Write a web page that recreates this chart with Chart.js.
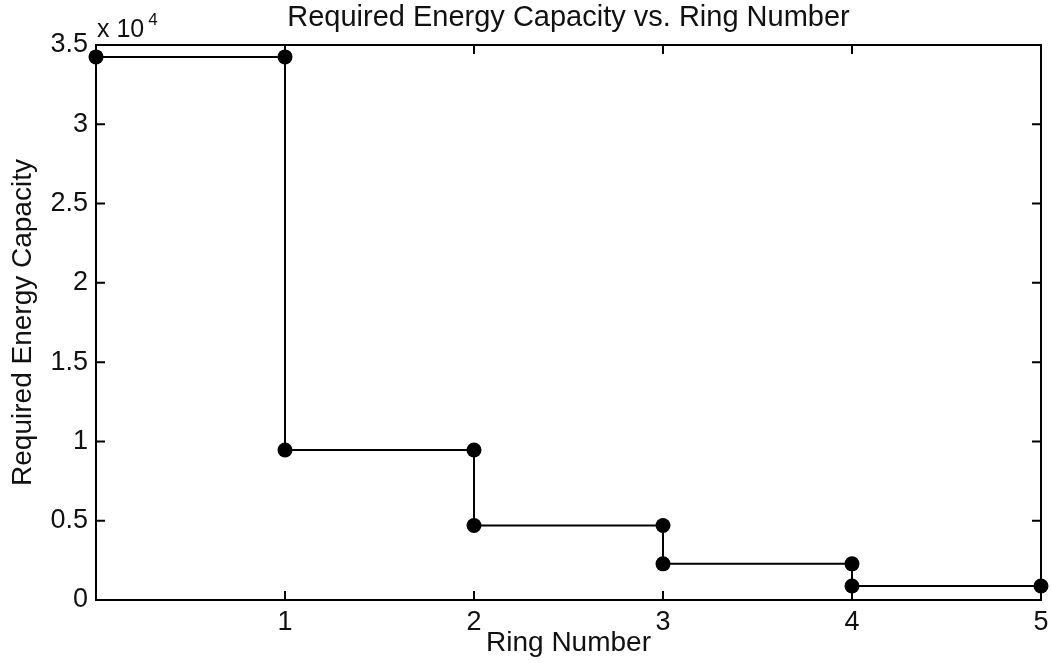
<!DOCTYPE html>
<html>
<head>
<meta charset="utf-8">
<script src="https://cdn.jsdelivr.net/npm/chart.js@4/dist/chart.umd.min.js"></script>
<style>
  html, body { margin: 0; padding: 0; background: #fff; }
  #wrap { width: 1051px; height: 663px; }
</style>
</head>
<body>
<div id="wrap"><canvas id="c" width="1051" height="663"></canvas></div>
<script>
// ---- data ----
const ringNumber = [0, 1, 1, 2, 2, 3, 3, 4, 4, 5];
const requiredCapacity = [34250, 34250, 9460, 9460, 4700, 4700, 2280, 2280, 880, 880];
const xTickValues = [0, 1, 2, 3, 4, 5];
const yTickValues = [0, 5000, 10000, 15000, 20000, 25000, 30000, 35000];
const chartTitle = 'Required Energy Capacity vs. Ring Number';
const xAxisTitle = 'Ring Number';
const yAxisTitle = 'Required Energy Capacity';
const yMultiplierBase = 'x 10';
const yMultiplierExp = '4';

const FONT = "'Liberation Sans', Arial, sans-serif";
const TEXT = '#111';

const points = ringNumber.map((x, i) => ({ x: x, y: requiredCapacity[i] }));

const matlabBox = {
  id: 'matlabBox',
  afterDraw(chart) {
    const { ctx, chartArea: a, scales } = chart;
    ctx.save();
    ctx.strokeStyle = '#000';
    ctx.lineWidth = 2;
    ctx.strokeRect(a.left, a.top, a.right - a.left, a.bottom - a.top);
    const tl = 9;
    ctx.beginPath();
    xTickValues.forEach(v => {
      const px = scales.x.getPixelForValue(v);
      ctx.moveTo(px, a.bottom); ctx.lineTo(px, a.bottom - tl);
      ctx.moveTo(px, a.top); ctx.lineTo(px, a.top + tl);
    });
    yTickValues.forEach(v => {
      const py = scales.y.getPixelForValue(v);
      ctx.moveTo(a.left, py); ctx.lineTo(a.left + tl, py);
      ctx.moveTo(a.right, py); ctx.lineTo(a.right - tl, py);
    });
    ctx.stroke();
    // title
    ctx.fillStyle = TEXT;
    ctx.font = '29px ' + FONT;
    ctx.textAlign = 'center';
    ctx.textBaseline = 'middle';
    ctx.fillText(chartTitle, (a.left + a.right) / 2, 18);
    // multiplier
    ctx.textAlign = 'left';
    ctx.textBaseline = 'alphabetic';
    ctx.font = '25px ' + FONT;
    ctx.fillText(yMultiplierBase, a.left + 1, 37);
    const w = ctx.measureText(yMultiplierBase).width;
    ctx.font = '17px ' + FONT;
    ctx.fillText(yMultiplierExp, a.left + 1 + w + 4, 25);
    ctx.restore();
  }
};

new Chart(document.getElementById('c'), {
  type: 'scatter',
  data: {
    datasets: [{
      data: points,
      showLine: true,
      borderColor: '#000',
      borderWidth: 2,
      backgroundColor: '#000',
      pointBackgroundColor: '#000',
      pointBorderColor: '#000',
      pointBorderWidth: 0,
      pointRadius: 7.5,
      pointHoverRadius: 7.5,
      tension: 0,
      clip: false
    }]
  },
  options: {
    responsive: false,
    animation: false,
    events: [],
    layout: { padding: { left: 0, right: 10, top: 45, bottom: 0 } },
    plugins: {
      legend: { display: false },
      tooltip: { enabled: false },
      title: { display: false }
    },
    scales: {
      x: {
        type: 'linear',
        min: 0, max: 5,
        afterFit(scale) { scale.height = 63; scale.paddingLeft = 0; scale.paddingRight = 0; },
        afterBuildTicks(scale) { scale.ticks = xTickValues.map(v => ({ value: v })); },
        grid: { display: false, drawTicks: false },
        border: { display: false },
        ticks: {
          padding: 6,
          color: TEXT,
          font: { family: FONT, size: 27 },
          maxRotation: 0,
          callback: v => (v === 0 ? '' : String(v))
        },
        title: {
          display: true,
          text: xAxisTitle,
          color: TEXT,
          font: { family: FONT, size: 28 },
          padding: { top: 0, bottom: 3 }
        }
      },
      y: {
        type: 'linear',
        min: 0, max: 35000,
        afterFit(scale) { scale.width = 96; scale.paddingTop = 0; scale.paddingBottom = 0; },
        afterBuildTicks(scale) { scale.ticks = yTickValues.map(v => ({ value: v })); },
        grid: { display: false, drawTicks: false },
        border: { display: false },
        ticks: {
          padding: 8,
          color: TEXT,
          font: { family: FONT, size: 27 },
          callback: v => String(v / 10000)
        },
        title: {
          display: true,
          text: yAxisTitle,
          color: TEXT,
          font: { family: FONT, size: 28 },
          padding: { top: 6, bottom: 0 }
        }
      }
    }
  },
  plugins: [matlabBox]
});
</script>
</body>
</html>
